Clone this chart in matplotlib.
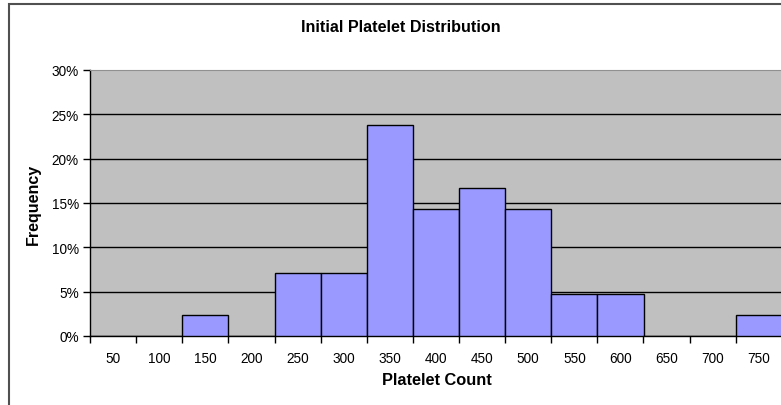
import matplotlib.pyplot as plt
import numpy as np
from matplotlib.patches import Rectangle

plt.rcParams['font.family'] = ['Liberation Sans', 'DejaVu Sans']

# bins and frequencies (fraction of samples)
bins = ["50", "100", "150", "200", "250", "300", "350", "400",
        "450", "500", "550", "600", "650", "700", "750"]
freq = [0.0, 0.0, 0.0238, 0.0, 0.0714, 0.0714, 0.238, 0.1429,
        0.1667, 0.1429, 0.0476, 0.0476, 0.0, 0.0, 0.0238]
yticks = [0, 0.05, 0.10, 0.15, 0.20, 0.25, 0.30]

W, H = 781, 406
fig = plt.figure(figsize=(W / 100, H / 100), dpi=100)

# chart border (cropped at right / bottom)
fig.patches.append(Rectangle((9 / W, -0.05), 1.1, 1 - 5 / H + 0.05,
                             transform=fig.transFigure, fill=False,
                             edgecolor='#505050', linewidth=1.5))

left, right, top, bottom = 90, 828, 71, 337
ax = fig.add_axes([left / W, 1 - bottom / H, (right - left) / W, (bottom - top) / H])
ax.set_facecolor('#C0C0C0')

x = np.arange(len(bins))
ax.bar(x, freq, width=1.0, color='#9999FF', edgecolor='black', linewidth=1.0, zorder=3)

ax.set_xlim(-0.5, 15.5)
ax.set_ylim(0, 0.30)
ax.set_yticks(yticks)
ax.set_yticklabels([f"{int(round(v * 100))}%" for v in yticks], fontsize=9.8)
for v in yticks[1:-1]:
    ax.axhline(v, color='black', linewidth=1.0, zorder=2)

ax.set_xticks(x)
ax.set_xticklabels(bins, fontsize=9.8)
ax.tick_params(axis='x', length=0, pad=11)
ax.set_xticks(np.arange(-0.5, 16, 1), minor=True)
ax.tick_params(axis='x', which='minor', length=5, width=1, color='black')
ax.tick_params(axis='y', length=5, width=1, color='black', pad=3)

ax.spines['top'].set_color('#909090')
ax.spines['right'].set_visible(False)
ax.spines['left'].set_linewidth(1.0)
ax.spines['bottom'].set_linewidth(1.0)

fig.text(401 / W, 1 - 27 / H, "Initial Platelet Distribution", fontsize=11.6,
         fontweight='bold', ha='center', va='center')
fig.text(437 / W, 1 - 381 / H, "Platelet Count", fontsize=11.8,
         fontweight='bold', ha='center', va='center')
fig.text(33 / W, 1 - 204 / H, "Frequency", fontsize=11.5, fontweight='bold',
         ha='center', va='center', rotation=90)

fig.savefig("out.png", dpi=100)
